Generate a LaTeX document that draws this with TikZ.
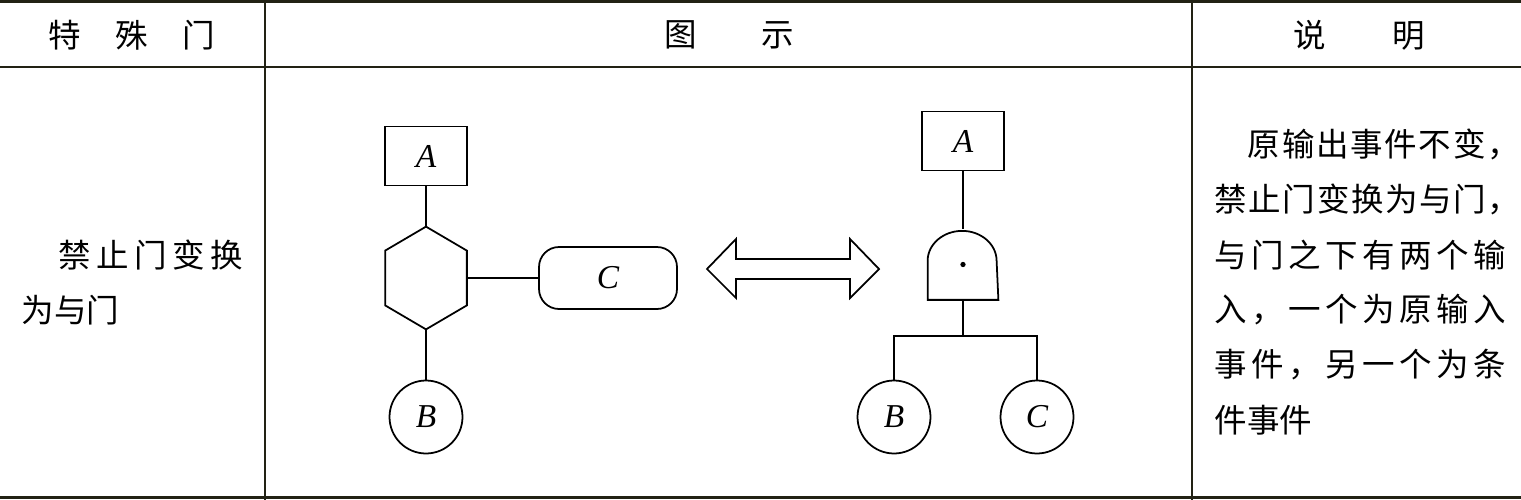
\documentclass[tikz,border=0pt]{standalone}
\usepackage{fontspec}
\newfontfamily\cjk{Noto Sans CJK SC}
\newfontfamily\latinserif{Liberation Serif}
\definecolor{rulecolor}{RGB}{34,34,20}
\usepackage{tikz}

\begin{document}
\begin{tikzpicture}[x=0.02cm,y=-0.02cm,line width=1pt,
    rulethick/.style={draw=rulecolor,line width=1.9pt},
    rulethin/.style={draw=rulecolor,line width=1.1pt},
    cell/.style={font=\cjk\fontsize{18.5}{22}\selectfont,inner sep=0pt},
    event/.style={draw,font=\latinserif\itshape\fontsize{19}{19}\selectfont,inner sep=0pt},
    topbox/.style={event,minimum width=1.64cm,minimum height=1.18cm},
    basic/.style={event,circle,minimum size=1.46cm},
    holder/.style={inner sep=0pt}]
  \useasboundingbox (0,0) rectangle (1521,500);
  % table
  \draw[rulethick] (0,1.5) -- (1521,1.5);
  \draw[rulethin] (0,67) -- (1521,67);
  \draw[rulethick] (0,497.5) -- (1521,497.5);
  \draw[rulethin] (265,0) -- (265,500);
  \draw[rulethin] (1192,0) -- (1192,500);
  \node[cell] (head1) at (132,35) {特\hspace{0.69cm}殊\hspace{0.69cm}门};
  \node[cell] (head2) at (729,35) {图\hspace{1.3cm}示};
  \node[cell] (head3) at (1359,35) {说\hspace{1.32cm}明};
  \node[cell,anchor=west] (name1) at (58,255)
    {\hbox to 3.68cm{禁\hfill 止\hfill 门\hfill 变\hfill 换}};
  \node[cell,anchor=west] (name2) at (21,310) {为与门};
  \node[cell,anchor=west] (note1) at (1247,144)
    {\hbox to 5.44cm{原\hfill 输\hfill 出\hfill 事\hfill 件\hfill 不\hfill 变\hfill ，}};
  \node[cell,anchor=west] (note2) at (1214,199)
    {\hbox to 6.1cm{禁\hfill 止\hfill 门\hfill 变\hfill 换\hfill 为\hfill 与\hfill 门\hfill ，}};
  \node[cell,anchor=west] (note3) at (1214,255)
    {\hbox to 5.82cm{与\hfill 门\hfill 之\hfill 下\hfill 有\hfill 两\hfill 个\hfill 输}};
  \node[cell,anchor=west] (note4) at (1214,310)
    {\hbox to 5.82cm{入\hfill ，\hfill 一\hfill 个\hfill 为\hfill 原\hfill 输\hfill 入}};
  \node[cell,anchor=west] (note5) at (1214,365)
    {\hbox to 5.82cm{事\hfill 件\hfill ，\hfill 另\hfill 一\hfill 个\hfill 为\hfill 条}};
  \node[cell,anchor=west] (note6) at (1214,420) {件事件};
  % inhibit gate
  \node[topbox] (topL) at (426,156) {A};
  \node[holder,minimum width=1.6cm,minimum height=2.02cm] (inh) at (426,278) {};
  \draw (inh.north) -- ([yshift=-0.48cm]inh.north east) -- ([yshift=0.48cm]inh.south east)
    -- (inh.south) -- ([yshift=0.48cm]inh.south west) -- ([yshift=-0.48cm]inh.north west) -- cycle;
  \node[event,rounded corners=0.4cm,minimum width=2.76cm,minimum height=1.24cm] (condL) at (608,278) {C};
  \node[basic] (inL) at (426,417) {B};
  \draw (topL.south) -- (inh.north);
  \draw (inh.east) -- (condL.west);
  \draw (inh.south) -- (inL.north);
  % equivalence
  \draw (707,269) -- (736,239) -- (736,259) -- (850,259) -- (850,239) -- (879,269)
    -- (850,298) -- (850,279) -- (736,279) -- (736,298) -- cycle;
  % and gate
  \node[topbox] (topR) at (963,141) {A};
  \node[holder,minimum width=1.38cm,minimum height=1.38cm] (andg) at (963,264.5) {};
  \draw (andg.south west) -- ([yshift=0.78cm]andg.south west)
    arc[start angle=180,end angle=0,x radius=0.69cm,y radius=0.6cm] -- (andg.south east) -- cycle;
  \fill (andg.center) circle[radius=1.5pt];
  \node[basic] (inR) at (894,417) {B};
  \node[basic] (condR) at (1037,417) {C};
  \coordinate (fork) at (963,336);
  \draw (topR.south) -- (andg.north);
  \draw (andg.south) -- (fork);
  \draw (inR.north) |- (fork) -| (condR.north);
\end{tikzpicture}
\end{document}
